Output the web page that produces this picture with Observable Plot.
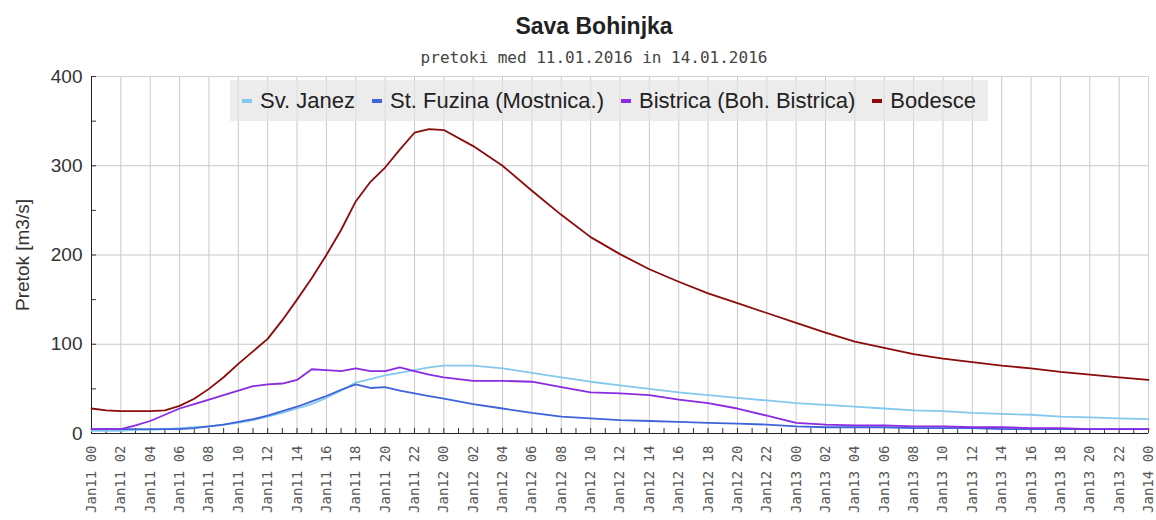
<!DOCTYPE html>
<html>
<head>
<meta charset="utf-8">
<script src="https://cdn.jsdelivr.net/npm/d3@7"></script>
<script src="https://cdn.jsdelivr.net/npm/@observablehq/plot@0.6"></script>
<style>
  html, body { margin: 0; padding: 0; background: #fff; }
  #wrap { position: relative; width: 1156px; height: 520px; overflow: hidden; font-family: "Liberation Sans", Arial, sans-serif; }
  #title { position: absolute; left: 594px; top: 15px; transform: translateX(-50%); font-weight: bold; font-size: 23px; line-height: 22px; color: #222; white-space: nowrap; }
  #subtitle { position: absolute; left: 594px; top: 50px; transform: translateX(-50%); font-family: "DejaVu Sans Mono", "Liberation Mono", monospace; font-size: 16px; line-height: 16px; color: #444; white-space: nowrap; }
  #chart { position: absolute; left: 0; top: 70px; }
  #legend { position: absolute; left: 230px; top: 80px; width: 758px; height: 41px; background: rgba(228,228,228,0.72);
            display: flex; align-items: center; justify-content: center; gap: 17px; font-size: 22px; color: #222; }
  .item { display: flex; align-items: center; gap: 8px; white-space: nowrap; }
  .sw { width: 10px; height: 4px; }
</style>
</head>
<body>
<div id="wrap">
  <div id="title"></div>
  <div id="subtitle"></div>
  <div id="chart"></div>
  <div id="legend"></div>
</div>
<script>
// ---- data ----
const titleText = "Sava Bohinjka";
const subtitleText = "pretoki med 11.01.2016 in 14.01.2016";
const yLabel = "Pretok [m3/s]";
const seriesNames = ["Sv. Janez", "St. Fuzina (Mostnica.)", "Bistrica (Boh. Bistrica)", "Bodesce"];
// hours after 11.01.2016 00:00
const hours = [0,1,2,3,4,5,6,7,8,9,10,11,12,13,14,15,16,17,18,19,20,21,22,23,24,
               26,28,30,32,34,36,38,40,42,44,46,48,50,52,54,56,58,60,62,64,66,68,70,72];
const svJanez = [3,3,3,4,4,5,6,7,8,10,12,15,19,23,28,33,40,48,57,61,65,68,71,74,76,
                 76,73,68,63,58,54,50,46,43,40,37,34,32,30,28,26,25,23,22,21,19,18,17,16];
const stFuzina = [5,5,5,5,5,5,5,6,8,10,13,16,20,25,30,36,42,49,55,51,52,48,45,42,39,
                  33,28,23,19,17,15,14,13,12,11,10,8,7,7,7,6,6,6,5,5,5,5,5,5];
const bistrica = [5,5,5,9,14,21,28,33,38,43,48,53,55,56,60,72,71,70,73,70,70,74,70,66,63,
                  59,59,58,52,46,45,43,38,34,28,20,12,10,9,9,8,8,7,7,6,6,5,5,5];
const bodesce = [28,26,25,25,25,26,31,39,50,63,78,92,106,127,150,174,200,228,260,282,298,318,337,341,340,
                 322,300,272,245,220,201,184,170,157,146,135,124,113,103,96,89,84,80,76,73,69,66,63,60];
const yTicks = [0,100,200,300,400];
const yMinorTicks = [50,150,250,350];

// ---- styles ----
const colors = ["#84c8ee", "#3f63d8", "#8a2be2", "#8b0a0a"];

const start = new Date(Date.UTC(2016, 0, 11, 0));
const end = new Date(Date.UTC(2016, 0, 14, 0));
const toDate = h => new Date(start.getTime() + h * 3600e3);
const allSeries = [svJanez, stFuzina, bistrica, bodesce];
const rows = [];
allSeries.forEach((vals, i) => {
  hours.forEach((h, j) => rows.push({date: toDate(h), value: vals[j], series: seriesNames[i]}));
});

document.getElementById("title").textContent = titleText;
document.getElementById("subtitle").textContent = subtitleText;

const fmt = d3.utcFormat("%b%d %H");

const chart = Plot.plot({
  width: 1156,
  height: 450,
  marginTop: 6,
  marginBottom: 87,
  marginLeft: 91,
  marginRight: 8,
  x: {type: "utc", domain: [start, end]},
  y: {domain: [0, 400]},
  color: {domain: seriesNames, range: colors},
  style: {fontFamily: "Liberation Sans, Arial, sans-serif", background: "transparent", overflow: "visible"},
  marks: [
    Plot.gridX({ticks: d3.utcHour.every(2), stroke: "#c8c8c8", strokeOpacity: 1}),
    Plot.gridY({ticks: yTicks, stroke: "#c8c8c8", strokeOpacity: 1}),
    Plot.frame({stroke: "#cfcfcf"}),
    Plot.axisX({ticks: d3.utcHour.every(2), tickFormat: fmt, tickRotate: -90, tickSize: 0, tickPadding: 12,
                fontSize: 14, fontFamily: "DejaVu Sans Mono, monospace", fill: "#555", label: null}),
    Plot.axisX({ticks: d3.utcHour.every(1), tickFormat: () => "", tickSize: -5, stroke: "#333", label: null}),
    Plot.axisY({ticks: yTicks, tickSize: 0, tickPadding: 9, fontSize: 19, fill: "#333",
                label: yLabel, labelAnchor: "center", labelArrow: "none", labelOffset: 76}),
    Plot.axisY({ticks: yTicks.concat(yMinorTicks), tickFormat: () => "", tickSize: -5, stroke: "#333", label: null}),
    Plot.ruleX([start], {stroke: "#222"}),
    Plot.ruleY([0], {stroke: "#222"}),
    Plot.line(rows, {x: "date", y: "value", z: "series", stroke: "series", strokeWidth: 1.8})
  ]
});
document.getElementById("chart").appendChild(chart);

// legend
const legend = document.getElementById("legend");
seriesNames.forEach((name, i) => {
  const item = document.createElement("div");
  item.className = "item";
  const sw = document.createElement("span");
  sw.className = "sw";
  sw.style.background = colors[i];
  const t = document.createElement("span");
  t.textContent = name;
  item.appendChild(sw);
  item.appendChild(t);
  legend.appendChild(item);
});
</script>
</body>
</html>
